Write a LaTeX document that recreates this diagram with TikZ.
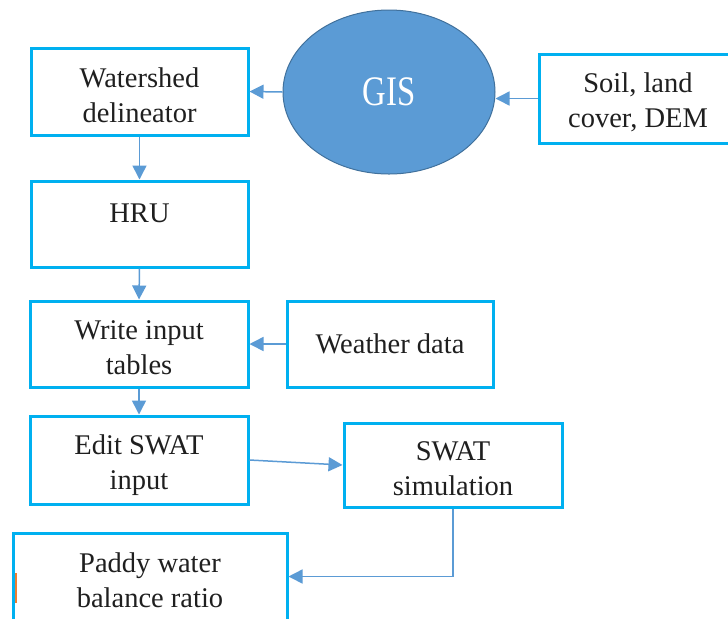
\documentclass[tikz,border=0pt]{standalone}
\usepackage{fontspec}
\setmainfont{Liberation Serif}
\newfontfamily\tnrface{Liberation Serif}
\usetikzlibrary{arrows.meta,shapes.geometric}
\definecolor{boxblue}{HTML}{00B0F0}
\definecolor{arrowblue}{HTML}{5B9BD5}
\definecolor{gisfill}{HTML}{5B9BD5}
\definecolor{gisline}{HTML}{41719C}
\definecolor{markorange}{HTML}{ED7D31}
\newcommand\topstrut[1]{\rule{0pt}{#1}}
\tikzset{
  flowbox/.style={draw=boxblue, line width=1.5pt, fill=white, inner sep=0pt,
    align=center, font=\tnrface\fontsize{14.25pt}{17.6pt}\selectfont, text=black!88},
  flowarrow/.style={draw=arrowblue, line width=0.75pt,
    -{Triangle[length=7pt,width=7pt]}},
}
\begin{document}
\begin{tikzpicture}[x=0.5pt,y=-0.5pt]
\clip (0,0) rectangle (728,618);
\fill[white] (0,0) rectangle (728,618);
% nodes
\node[flowbox, minimum width=108.5pt, minimum height=43.5pt] (ws) at (139.5,91.5) {\topstrut{14pt}Watershed\\delineator};
\node[flowbox, minimum width=108.5pt, minimum height=43pt] (hru) at (139.5,224) {\topstrut{16pt}HRU\\\mbox{}};
\node[flowbox, minimum width=109pt, minimum height=43pt] (write) at (139,344) {\topstrut{13.5pt}Write input\\tables};
\node[flowbox, minimum width=103pt, minimum height=43pt] (weather) at (390,344) {Weather data};
\node[flowbox, minimum width=109pt, minimum height=44pt] (edit) at (139,460) {\topstrut{15pt}Edit SWAT\\input};
\node[flowbox, minimum width=109pt, minimum height=42pt] (swat) at (453,465) {\topstrut{13.5pt}SWAT\\simulation};
\node[flowbox, minimum width=137pt, minimum height=43.5pt] (paddy) at (150,576.5) {\topstrut{14pt}Paddy water\\balance ratio};
\node[flowbox, minimum width=99pt, minimum height=44.5pt] (soil) at (638,98.5) {\topstrut{14pt}Soil, land\\cover, DEM};
\node[ellipse, draw=gisline, line width=0.5pt, fill=gisfill, inner sep=0pt,
  minimum width=106pt, minimum height=82pt, text=white,
  font=\tnrface\fontsize{21pt}{24pt}\selectfont] (gis) at (389,92) {\raisebox{-1pt}{\scalebox{0.78}[1]{GIS}}};
% small orange mark
\draw[markorange, line width=1pt] (15.5,573) -- (15.5,603);
% connectors
\draw[flowarrow] (gis.west) -- (ws.east);
\draw[flowarrow] (soil.west) -- (gis.east |- soil.west);
\draw[flowarrow] (ws.south) -- (hru.north);
\draw[flowarrow] (hru.south) -- (write.north);
\draw[flowarrow] (weather.west) -- (write.east);
\draw[flowarrow] (write.south) -- (edit.north);
\draw[flowarrow] (edit.east) -- (swat.west);
\draw[flowarrow] (swat.south) |- (paddy.east);
\end{tikzpicture}
\end{document}
